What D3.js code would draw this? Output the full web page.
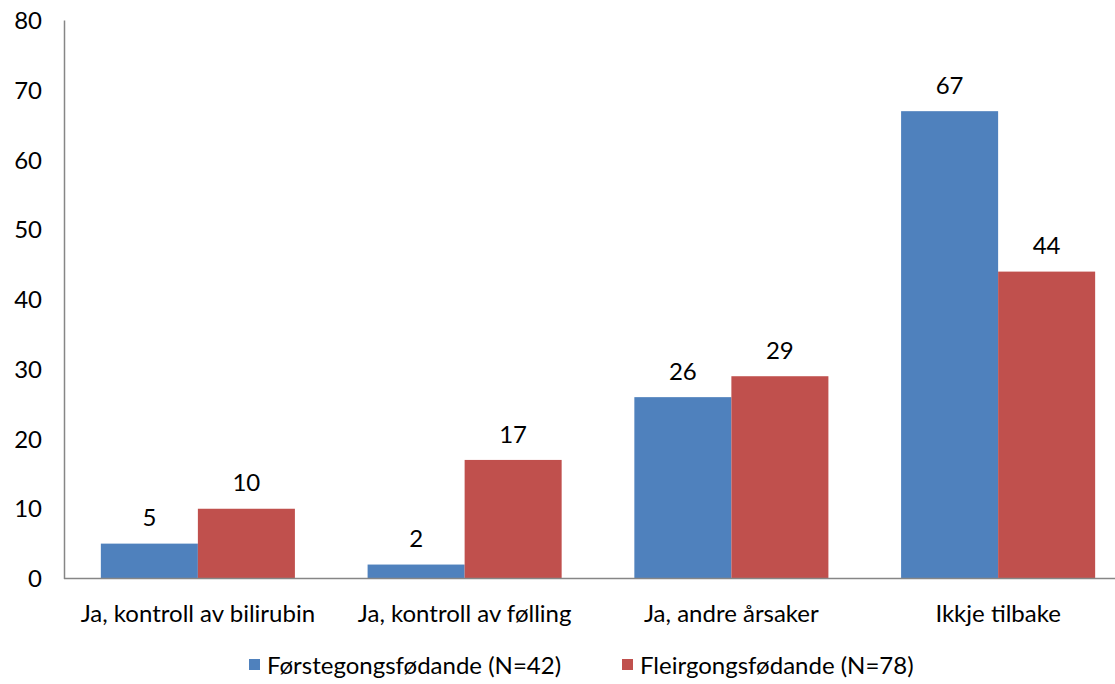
<!DOCTYPE html>
<html>
<head>
<meta charset="utf-8">
<script src="https://d3js.org/d3.v7.min.js"></script>
<style>
  body { margin: 0; background: #fff; }
  text { font-family: Lato, "Open Sans", sans-serif; fill: #000; }
</style>
</head>
<body>
<div id="chart"></div>
<script>
// data
var categories = ["Ja, kontroll av bilirubin", "Ja, kontroll av følling", "Ja, andre årsaker", "Ikkje tilbake"];
var seriesNames = ["Førstegongsfødande (N=42)", "Fleirgongsfødande (N=78)"];
var forstegongs = [5, 2, 26, 67];
var fleirgongs = [10, 17, 29, 44];
var yTicks = [0, 10, 20, 30, 40, 50, 60, 70, 80];
var colors = ["#4F81BD", "#C0504D"];

var W = 1115, H = 684;
var fontSize = "24px";
var svg = d3.select("#chart").append("svg")
    .attr("width", W).attr("height", H);

var y = d3.scaleLinear().domain([0, 80]).range([578.5, 20.5]);
var x0 = d3.scaleBand().domain(categories).range([64.5, 1131.5]).padding(0);
var x1 = d3.scaleBand().domain([0, 1]).range([0, x0.bandwidth()])
    .paddingInner(0).paddingOuter(0.3746);

var rows = categories.map(function(c, i) {
  return { cat: c, vals: [forstegongs[i], fleirgongs[i]] };
});

// y axis labels
svg.append("g").selectAll("text")
  .data(yTicks).enter().append("text")
    .attr("x", 42)
    .attr("y", function(d) { return y(d); })
    .attr("dy", "0.36em")
    .attr("text-anchor", "end")
    .style("font-size", fontSize)
    .text(function(d) { return d; });

// bars
var groups = svg.append("g").selectAll("g")
  .data(rows).enter().append("g")
    .attr("transform", function(d) { return "translate(" + x0(d.cat) + ",0)"; });

groups.selectAll("rect")
  .data(function(d) { return d.vals; }).enter().append("rect")
    .attr("x", function(d, i) { return x1(i); })
    .attr("y", function(d) { return y(d); })
    .attr("width", x1.bandwidth())
    .attr("height", function(d) { return y(0) - y(d); })
    .attr("fill", function(d, i) { return colors[i]; });

groups.selectAll("text.val")
  .data(function(d) { return d.vals; }).enter().append("text")
    .attr("class", "val")
    .attr("x", function(d, i) { return x1(i) + x1.bandwidth() / 2; })
    .attr("y", function(d) { return y(d) - 26; })
    .attr("dy", "0.36em")
    .attr("text-anchor", "middle")
    .style("font-size", fontSize)
    .text(function(d) { return d; });

// axes lines
svg.append("line")
  .attr("x1", 64.5).attr("x2", 64.5)
  .attr("y1", 20.5).attr("y2", 579)
  .attr("stroke", "#868686").attr("stroke-width", 1.5);
svg.append("line")
  .attr("x1", 64).attr("x2", W)
  .attr("y1", 578.5).attr("y2", 578.5)
  .attr("stroke", "#868686").attr("stroke-width", 1.5);

// category labels
svg.append("g").selectAll("text")
  .data(categories).enter().append("text")
    .attr("x", function(d) { return x0(d) + x0.bandwidth() / 2; })
    .attr("y", 613)
    .attr("dy", "0.36em")
    .attr("text-anchor", "middle")
    .style("font-size", fontSize)
    .text(function(d) { return d; });

// legend
var legendX = [249, 622];
var legend = svg.append("g").selectAll("g")
  .data(seriesNames).enter().append("g")
    .attr("transform", function(d, i) { return "translate(" + legendX[i] + ",0)"; });
legend.append("rect")
  .attr("x", 0).attr("y", 659)
  .attr("width", 11).attr("height", 11)
  .attr("fill", function(d, i) { return colors[i]; });
legend.append("text")
  .attr("x", 18).attr("y", 665)
  .attr("dy", "0.36em")
  .style("font-size", fontSize)
  .text(function(d) { return d; });
</script>
</body>
</html>
